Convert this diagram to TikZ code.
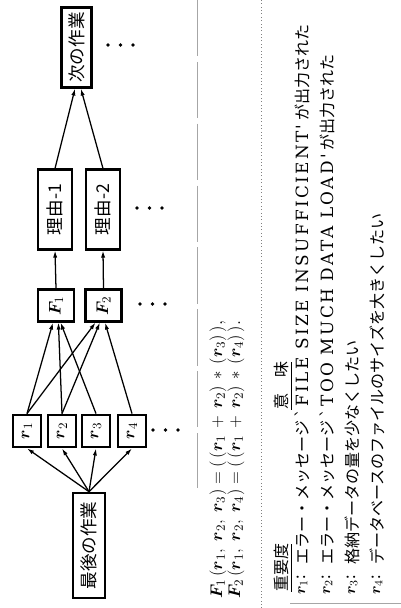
\documentclass[tikz,border=0pt]{standalone}
\usepackage{amsmath}
\usepackage{fontspec}
\newfontfamily\jpfont{Noto Sans CJK JP}
\newfontfamily\msgfont[LetterSpace=14]{DejaVu Serif}
\usetikzlibrary{arrows.meta}
\tikzset{
  work/.style={draw, line width=2pt, inner sep=0pt,
    font=\jpfont\fontsize{12.5}{14}\selectfont},
  flow/.style={-{Latex[length=5pt,width=3pt]}, line width=0.9pt},
  txt/.style={anchor=west, inner sep=0pt,
    font=\jpfont\fontsize{11.4}{13}\selectfont},
  scan/.style={gray!70, line width=0.4pt}
}
\newcommand{\rv}[1]{\boldsymbol{r}_{#1}}
\newcommand{\Fv}[1]{\boldsymbol{F}_{\!#1}}

\begin{document}
\begin{tikzpicture}[x=0.025cm, y=0.025cm, rotate=90, transform shape]
  \useasboundingbox (0,0) rectangle (608,-401);
  % work flow
  \node [work, minimum width=2.62cm, minimum height=0.8cm] (last) at (62.5,-89) {最後の作業};
  \node [work, minimum width=0.8cm, minimum height=0.7cm] (r1) at (177,-27) {$\rv{1}$};
  \node [work, minimum width=0.8cm, minimum height=0.7cm] (r2) at (177,-62) {$\rv{2}$};
  \node [work, minimum width=0.8cm, minimum height=0.7cm] (r3) at (177,-96) {$\rv{3}$};
  \node [work, minimum width=0.8cm, minimum height=0.7cm] (r4) at (177,-132) {$\rv{4}$};
  \node [work, minimum width=0.78cm, minimum height=0.9cm] (F1) at (302.5,-56) {$\Fv{1}$};
  \node [work, minimum width=0.78cm, minimum height=0.9cm] (F2) at (302.5,-103.5) {$\Fv{2}$};
  \node [work, minimum width=1.98cm, minimum height=0.85cm] (reason1) at (398.5,-55) {理由-1};
  \node [work, minimum width=1.98cm, minimum height=0.85cm] (reason2) at (398.5,-103) {理由-2};
  \node [work, minimum width=1.98cm, minimum height=0.73cm] (next) at (560.5,-76.5) {次の作業};

  \foreach \r in {r1,r2,r3,r4}
    \draw [flow] (last.east) -- (\r.west);
  \draw [flow] (r1.east) -- (F1.170);
  \draw [flow] (r2.east) -- (F1.188);
  \draw [flow] (r3.east) -- (F1.195);
  \draw [flow] (r1.east) -- (F2.155);
  \draw [flow] (r2.east) -- (F2.168);
  \draw [flow] (r4.east) -- (F2.185);
  \draw [flow] (F1.east) -- (reason1.west);
  \draw [flow] (F2.east) -- (reason2.west);
  \draw [flow] (reason1.east) -- (next.178);
  \draw [flow] (reason2.east) -- (next.186);

  % more of the same
  \foreach \x/\y in {178/-153, 304/-140, 400/-137, 563/-108}
    \foreach \k in {0,1,2}
      \fill (\x,\y-12.5*\k) circle (1.8);

  % page frame from the scan
  \draw [scan, dash pattern=on 40pt off 4pt] (608,-197) -- (120,-197);
  \draw [scan] (5,-290) -- (5,-401);

  % formulas
  \node [txt, font=\fontsize{13}{14}\selectfont] (form1) at (9,-218)
    {$\Fv{1}\,(\rv{1},\; \rv{2},\; \rv{3})=(\,(\rv{1}\,+\,\rv{2})\,*\,(\rv{3})\,)$,};
  \node [txt, font=\fontsize{13}{14}\selectfont] (form2) at (9,-236)
    {$\Fv{2}\,(\rv{1},\; \rv{2},\; \rv{4})=(\,(\rv{1}\,+\,\rv{2})\,*\,(\rv{4})\,)$.};
  \draw [gray, dotted] (0,-261) -- (608,-261);

  % table
  \node [txt] (imp) at (16,-283) {\underline{重要度}};
  \node [txt] (mean) at (198,-283) {\underline{意\quad 味}};
  \node [txt] (k1) at (13,-302) {$\rv{1}$:};
  \node [txt] (k2) at (13,-327) {$\rv{2}$:};
  \node [txt] (k3) at (13,-352) {$\rv{3}$:};
  \node [txt] (k4) at (13,-377) {$\rv{4}$:};
  \node [txt] (m1) at (43,-302) {エラー・メッセージ {\msgfont\fontsize{12}{14}\selectfont`FILE SIZE INSUFFICIENT'} が出力された};
  \node [txt] (m2) at (43,-327) {エラー・メッセージ {\msgfont\fontsize{12}{14}\selectfont`TOO MUCH DATA LOAD'} が出力された};
  \node [txt] (m3) at (43,-352) {格納データの量を少なくしたい};
  \node [txt] (m4) at (43,-377) {データベースのファイルのサイズを大きくしたい};
\end{tikzpicture}
\end{document}
